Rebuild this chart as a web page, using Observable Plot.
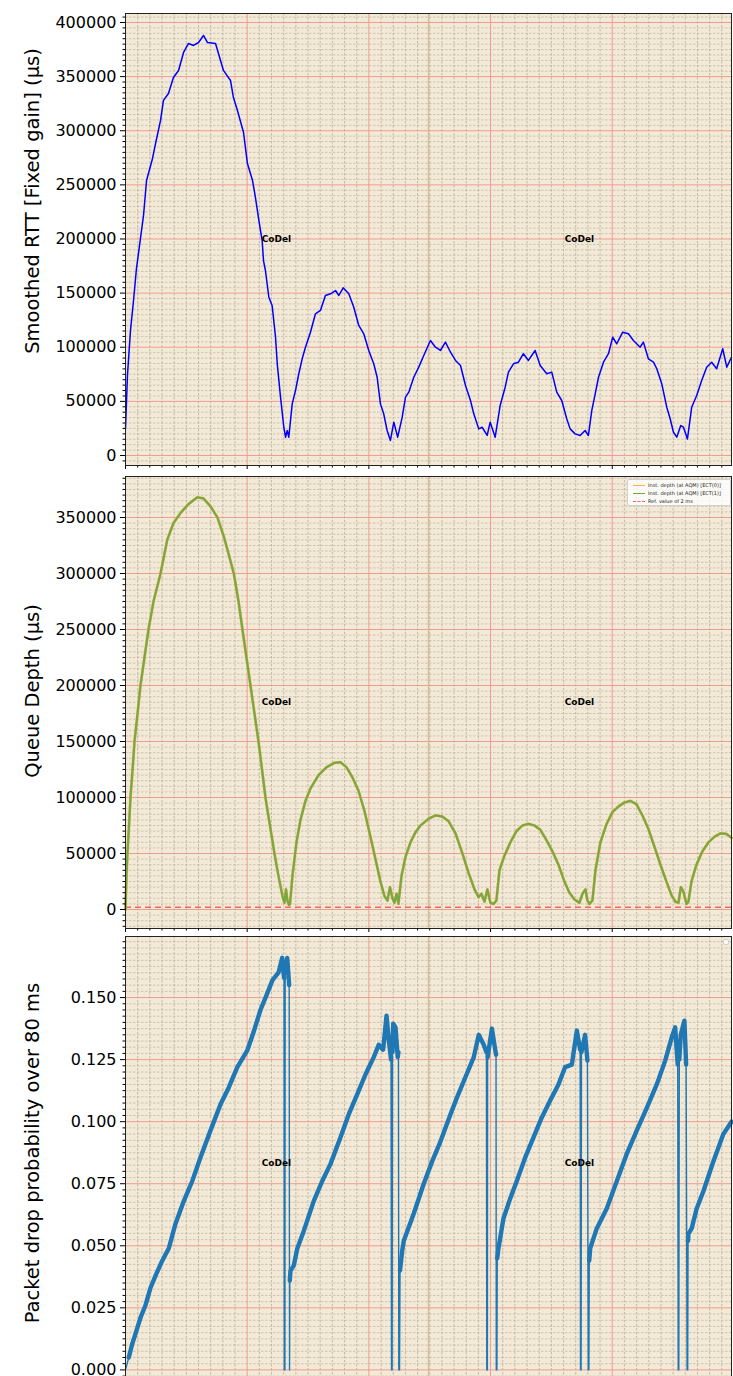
<!DOCTYPE html>
<html><head><meta charset="utf-8">
<script src="https://cdn.jsdelivr.net/npm/d3@7"></script>
<script src="https://cdn.jsdelivr.net/npm/@observablehq/plot@0.6"></script>
<style>
body{margin:0;background:#fff;overflow:hidden;font-family:"DejaVu Sans",sans-serif;}
#wrap{position:relative;width:733px;height:1376px;overflow:hidden;}
#wrap svg{position:absolute;left:0;}
.ylab{position:absolute;font-size:19.5px;white-space:nowrap;transform:translate(-50%,-50%) rotate(-90deg);color:#000;}
.legend{position:absolute;background:rgba(255,255,255,0.8);border:1px solid #d0d0d0;border-radius:2px;font-size:5px;color:#222;box-sizing:border-box;}
.legend .row{display:flex;align-items:center;height:8px;}
.legend .sw{width:12px;margin:0 3px 0 5px;height:0;}
</style></head><body><div id="wrap"></div>
<script>
// ---------- data ----------
// x: time in arbitrary units (10 per major grid division)
const rttX = [0,0.16,0.41,0.66,0.90,1.23,1.48,1.73,2.22,2.47,2.88,3.12,3.53,3.94,4.36,4.77,5.18,5.59,6.00,6.41,6.74,7.40,7.64,8.05,8.63,8.87,9.20,9.70,10.02,10.44,10.68,10.96,11.23,11.34,11.50,11.78,12.05,12.33,12.47,12.74,13.01,13.15,13.29,13.42,13.70,13.97,14.24,14.52,14.79,15.20,15.61,16.02,16.43,16.85,17.26,17.53,17.89,18.35,18.76,19.17,19.58,19.99,20.40,20.68,20.95,21.22,21.50,21.77,22.05,22.37,22.74,23.01,23.28,23.69,24.10,24.51,25.06,25.47,25.88,26.29,26.71,27.12,27.53,27.94,28.35,28.62,29.03,29.31,29.72,29.97,30.38,30.79,31.20,31.47,31.88,32.29,32.70,33.11,33.66,34.08,34.62,35.03,35.44,35.85,36.26,36.54,36.95,37.36,37.77,38.04,38.32,38.60,38.87,39.28,39.69,40.04,40.37,40.86,41.33,41.74,42.29,42.56,42.97,43.39,43.66,44.07,44.48,44.76,45.03,45.30,45.63,45.85,46.18,46.53,46.94,47.35,47.76,48.17,48.58,49.08,49.41,49.80];
const rttY = [25000,73900,115500,143200,172700,200500,221700,254000,274400,288200,309500,328000,334400,349200,355700,372300,380600,378800,381500,388000,381500,380600,371400,355700,346400,330700,318700,298400,269700,254000,238300,217100,198600,180100,170900,146200,138600,109300,84700,53900,26100,16900,23100,16900,47700,60000,75500,89300,100000,113900,130900,134000,147800,149400,152400,147800,154900,149400,137000,120100,112400,97000,84700,72300,47700,38500,23100,13900,30800,16900,35400,53900,58500,72300,81600,92400,106200,100000,97000,104700,95400,87800,83100,64700,50800,38500,24600,26100,18500,30800,16900,46200,63100,77000,84700,86200,94000,87800,97000,83100,75500,77000,58500,50800,33900,24600,20000,18500,23100,18500,41600,57000,72300,86200,94000,109300,103200,113900,112400,106200,100000,104700,89300,86200,80100,66200,44600,33900,21500,16900,27700,26100,15300,44600,55400,69300,81600,86200,80100,98600,81600,90800];

const queueX = [0,0.08,0.16,0.29,0.41,0.58,0.74,0.99,1.23,1.56,1.89,2.30,2.88,3.43,3.94,4.52,5.18,5.89,6.41,6.98,7.56,8.08,8.46,8.90,9.29,9.61,9.94,10.27,10.60,10.93,11.22,11.50,11.87,12.24,12.57,12.90,13.06,13.19,13.31,13.44,13.52,13.72,14.05,14.38,14.79,15.20,15.86,16.52,17.17,17.67,18.16,18.65,19.15,19.64,20.13,20.54,20.95,21.28,21.53,21.73,21.94,22.10,22.27,22.43,22.68,23.01,23.42,23.83,24.24,24.90,25.47,26.05,26.54,27.12,27.69,28.18,28.68,29.01,29.25,29.50,29.74,29.99,30.24,30.48,30.73,31.14,31.63,32.13,32.62,33.11,33.61,34.10,34.59,35.08,35.58,36.07,36.48,36.89,37.30,37.55,37.80,37.96,38.13,38.37,38.62,39.03,39.52,40.02,40.51,41.00,41.50,41.99,42.48,42.97,43.47,43.96,44.45,44.86,45.19,45.44,45.64,45.85,46.10,46.26,46.51,46.92,47.41,47.91,48.40,48.89,49.38,49.80];
const queueY = [0,30000,50000,75000,100000,125000,150000,175000,200000,225000,250000,275000,300000,330000,345000,354000,362000,368000,367000,360000,350000,333000,318000,300000,275000,250000,225000,200000,175000,150000,125000,100000,75000,50000,30000,12000,6000,18000,8000,4000,5000,30000,60000,80000,97000,108000,120000,127000,131000,131500,127000,118000,106000,88000,65000,45000,25000,12000,8000,20000,10000,6000,14000,5000,30000,47000,60000,69000,75000,81000,84000,83000,79000,68000,50000,33000,18000,11000,14000,7000,18000,6000,5000,8000,35000,48000,60000,70000,75000,76500,75000,71000,62000,52000,40000,25000,15000,9000,6000,14000,18000,8000,5000,8000,35000,60000,76000,87000,92000,95500,97000,94000,84000,72000,56000,40000,25000,13000,7000,6000,20000,16000,5000,7000,25000,40000,52000,60000,65000,68000,67500,64000];
const refValue = [2000]; // 2 ms

const dropX = [0,0.27,0.55,0.82,1.23,1.64,2.05,2.47,3.02,3.56,4.11,4.79,5.48,6.16,6.98,7.81,8.49,9.18,10.00,10.52,11.09,11.59,12.08,12.57,12.88,12.94,13.03,13.05,13.10,13.12,13.29,13.45,13.48,13.50,
  13.56,13.83,14.11,14.65,15.47,16.16,16.85,17.67,18.35,19.04,19.72,20.40,20.81,21.17,21.45,21.64,21.82,21.86,21.91,21.94,22.00,22.19,22.37,22.43,22.46,22.52,22.56,
  22.74,22.87,23.69,24.51,25.20,25.88,26.71,27.26,27.94,28.62,29.03,29.44,29.66,29.69,29.74,29.76,30.11,30.38,30.45,30.47,30.52,30.55,
  30.65,31.06,31.61,32.15,32.84,33.53,34.21,34.90,35.58,36.13,36.68,37.09,37.36,37.39,37.44,37.47,37.77,37.96,38.03,38.08,38.11,
  38.19,38.73,39.55,40.37,41.19,42.01,42.84,43.66,44.35,44.89,45.17,45.38,45.42,45.47,45.51,45.63,45.93,46.07,46.15,46.20,46.23,
  46.26,46.53,46.94,47.49,48.31,49.13,49.80];
const dropY = [0,0.005,0.0104,0.0145,0.021,0.026,0.033,0.038,0.044,0.049,0.0589,0.068,0.076,0.0856,0.0964,0.107,0.1138,0.1219,0.1286,0.136,0.145,0.151,0.157,0.160,0.166,0.162,0.158,0,0,0.160,0.166,0.155,0,0.036,
  0.040,0.042,0.0488,0.056,0.068,0.076,0.083,0.0937,0.103,0.111,0.119,0.126,0.131,0.129,0.1427,0.1327,0.125,0,0,0.128,0.1395,0.138,0.126,0.128,0,0,0.040,
  0.048,0.052,0.063,0.075,0.084,0.092,0.103,0.110,0.118,0.126,0.135,0.131,0.128,0,0,0.126,0.1375,0.129,0.127,0,0,0.045,
  0.049,0.061,0.069,0.076,0.0855,0.0937,0.1017,0.1085,0.115,0.122,0.123,0.1367,0.129,0,0,0.128,0.135,0.1246,0,0,0.044,
  0.049,0.057,0.065,0.076,0.087,0.0964,0.1056,0.115,0.1246,0.134,0.138,0.123,0,0,0.125,0.135,0.1407,0.123,0,0,0.052,
  0.0548,0.057,0.065,0.072,0.084,0.095,0.100];

const codelX = [12.4, 37.3];
const markerX = [24.9];

const xMajorTicks = [0,10,20,30,40];
const rttTicks = [0,50000,100000,150000,200000,250000,300000,350000,400000];
const queueTicks = [0,50000,100000,150000,200000,250000,300000,350000];
const probTicks = [0,0.025,0.05,0.075,0.1,0.125,0.15];

const yLabels = ["Smoothed RTT [Fixed gain] (µs)", "Queue Depth (µs)", "Packet drop probability over 80 ms"];
const legendLabels = ["Inst. depth (at AQM) [ECT(0)]", "Inst. depth (at AQM) [ECT(1)]", "Ref. value of 2 ms"];

// ---------- build ----------
const xDomain = [0, 49.8];
const BG = "#f3e9d7", MAJ = "#ef9d90", MIN = "#b3a792";
const xMinorTicks = d3.range(0, 50, 1).filter(v => v % 10 !== 0);

function minorOf(domain, step) {
  const out = [];
  const n0 = Math.ceil(domain[0] / step), n1 = Math.floor(domain[1] / step);
  for (let i = n0; i <= n1; i++) if (i % 10 !== 0) out.push(+(i * step).toFixed(6));
  return out;
}

function panel(o) {
  const yMinor = minorOf(o.yDomain, o.minorStep);
  const svg = Plot.plot({
    width: 733, height: o.height,
    marginLeft: 125, marginRight: 2, marginTop: o.mt, marginBottom: o.mb,
    x: {domain: xDomain},
    y: {domain: o.yDomain},
    style: {background: "transparent", fontFamily: "DejaVu Sans", fontSize: "16px", color: "#000", overflow: "visible"},
    marks: [
      Plot.frame({fill: BG, stroke: null}),
      Plot.ruleY(yMinor, {stroke: MIN, strokeWidth: 0.8, strokeDasharray: "2.5,1.5", strokeOpacity: 0.7}),
      Plot.ruleX(xMinorTicks, {stroke: MIN, strokeWidth: 0.8, strokeDasharray: "2.5,1.5", strokeOpacity: 0.9}),
      Plot.ruleY(o.yMajor, {stroke: MAJ, strokeWidth: 1}),
      Plot.ruleX(xMajorTicks, {stroke: MAJ, strokeWidth: 1}),
      Plot.ruleX(markerX, {stroke: "#d9b996", strokeWidth: 1.3}),
      ...o.marks,
      Plot.text(codelX, {x: d => d, y: () => (o.yDomain[0] + o.yDomain[1]) / 2, text: () => "CoDel", fontWeight: "bold", fontSize: 9, fill: "#000"}),
      Plot.axisY(o.yMajor, {tickSize: 5, tickPadding: 4, tickFormat: o.fmt, fontSize: 16, label: null}),
      Plot.axisY(yMinor, {tickSize: 2.5, tickFormat: () => "", label: null}),
      Plot.axisX(xMajorTicks, {tickSize: 4, tickFormat: () => "", label: null}),
      Plot.axisX(xMinorTicks, {tickSize: 2.5, tickFormat: () => "", label: null}),
      Plot.frame({stroke: "#222", strokeWidth: 1})
    ]
  });
  svg.style.top = o.top + "px";
  document.getElementById("wrap").appendChild(svg);
}

const rtt = rttX.map((x, i) => ({x, y: rttY[i]}));
const queue = queueX.map((x, i) => ({x, y: queueY[i]}));
const drop = dropX.map((x, i) => ({x, y: dropY[i]}));

panel({top: 0, height: 472, mt: 13, mb: 7, yDomain: [-9240, 408300], yMajor: rttTicks, minorStep: 5000, fmt: d3.format("d"),
  marks: [Plot.line(rtt, {x: "x", y: "y", stroke: "#0000ff", strokeWidth: 1.5})]});

panel({top: 472, height: 462, mt: 4, mb: 6, yDomain: [-16960, 386600], yMajor: queueTicks, minorStep: 5000, fmt: d3.format("d"),
  marks: [
    Plot.ruleY(refValue, {stroke: "#ec6a5e", strokeWidth: 1.6, strokeDasharray: "6,4"}),
    Plot.line(queue, {x: "x", y: "y", stroke: "#f5b54a", strokeWidth: 2.8}),
    Plot.line(queue, {x: "x", y: "y", stroke: "#76a845", strokeWidth: 2.2})
  ]});

panel({top: 934, height: 466, mt: 2, mb: 10, yDomain: [-0.0083, 0.1746], yMajor: probTicks, minorStep: 0.0025, fmt: d3.format(".3f"),
  marks: [
    Plot.line(drop, {x: "x", y: "y", stroke: "#1f77b4", strokeWidth: 1.4}),
    Plot.line(drop, {x: "x", y: d => d.y > 0 ? d.y : NaN, stroke: "#1f77b4", strokeWidth: 4.4})
  ]});

// y labels
const wrap = document.getElementById("wrap");
[[yLabels[0], 201], [yLabels[1], 691], [yLabels[2], 1153]].forEach(([t, cy]) => {
  const d = document.createElement("div");
  d.className = "ylab"; d.textContent = t;
  d.style.left = "32px"; d.style.top = cy + "px";
  wrap.appendChild(d);
});

// legend (panel 2)
const lg = document.createElement("div");
lg.className = "legend";
Object.assign(lg.style, {left: "627px", top: "479px", width: "104px", height: "27px", paddingTop: "1px"});
const swatches = [
  {c: "#f5b54a", dash: "solid"},
  {c: "#76a845", dash: "solid"},
  {c: "#ec6a5e", dash: "dashed"}
];
legendLabels.forEach((t, i) => {
  const r = document.createElement("div"); r.className = "row";
  const s = document.createElement("div"); s.className = "sw";
  s.style.borderTop = `1.2px ${swatches[i].dash} ${swatches[i].c}`;
  const l = document.createElement("span"); l.textContent = t;
  r.appendChild(s); r.appendChild(l); lg.appendChild(r);
});
wrap.appendChild(lg);

// empty legend box (panel 3)
const lg3 = document.createElement("div");
lg3.className = "legend";
Object.assign(lg3.style, {left: "723px", top: "939px", width: "6px", height: "6px"});
wrap.appendChild(lg3);
</script>
</body></html>
